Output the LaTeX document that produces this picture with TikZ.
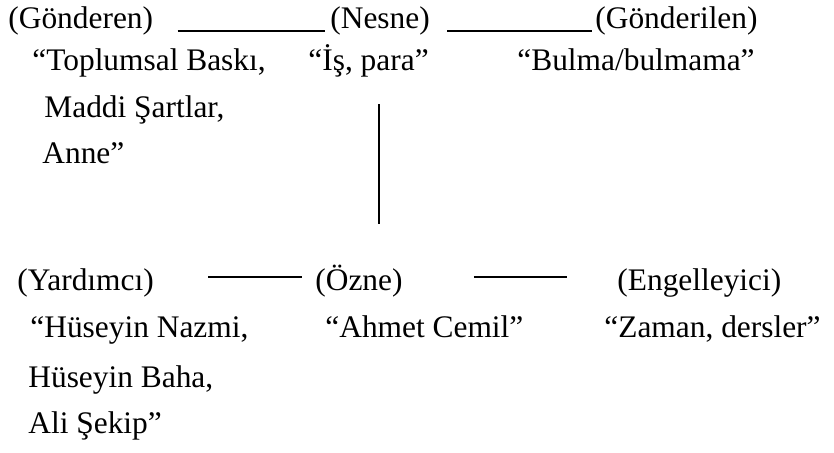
\documentclass[tikz,border=0pt]{standalone}
\usepackage{fontspec}
\setmainfont{Liberation Serif}
\usetikzlibrary{positioning}
\tikzset{
        actant/.style={anchor=base west, inner sep=0pt, font=\fontsize{15.7}{18}\selectfont},
        link/.style={line width=0.9pt},
}

\begin{document}
\begin{tikzpicture}[x=0.5pt, y=-0.5pt]
      \useasboundingbox (0,0) rectangle (834,452);
      % GONDEREN - NESNE - GONDERILEN
      \node[actant] (gonderen) at (8,28) {(Gönderen)};
      \node[actant] (nesne) at (330,28) {(Nesne)};
      \node[actant] (gonderilen) at (595,28) {(Gönderilen)};
      \node[actant] (toplumsal) at (32,70) {“Toplumsal Baskı,};
      \node[actant] (maddi) at (44,117) {Maddi Şartlar,};
      \node[actant] (anne) at (42,163) {Anne”};
      \node[actant] (ispara) at (308,70) {“İş, para”};
      \node[actant] (bulma) at (517,70) {“Bulma/bulmama”};

      % YARDIMCI - OZNE - ENGELLEYICI
      \node[actant] (yardimci) at (17,290) {(Yardımcı)};
      \node[actant] (ozne) at (315,290) {(Özne)};
      \node[actant] (engelleyici) at (617,290) {(Engelleyici)};
      \node[actant] (nazmi) at (30,337) {“Hüseyin Nazmi,};
      \node[actant] (baha) at (28,387) {Hüseyin Baha,};
      \node[actant] (sekip) at (28,433) {Ali Şekip”};
      \node[actant] (ahmet) at (325,337) {“Ahmet Cemil”};
      \node[actant] (zaman) at (604,337) {“Zaman, dersler”};

      % WIRING
      % top row
      \draw[link] ([shift={(24,3)}]gonderen.base east) -- ([shift={(-5,3)}]nesne.base west);
      \draw[link] ([shift={(17,3)}]nesne.base east) -- ([shift={(-3,3)}]gonderilen.base west);
      % nesne to ozne
      \coordinate (vtop) at ([shift={(71,34)}]ispara.base west);
      \draw[link] (vtop) -- ++(0,120);
      % bottom row
      \draw[link] ([shift={(54,-13)}]yardimci.base east) -- ([shift={(-13,-13)}]ozne.base west);
      \draw[link] ([shift={(71,-13)}]ozne.base east) -- ([shift={(-50,-13)}]engelleyici.base west);
\end{tikzpicture}
\end{document}
